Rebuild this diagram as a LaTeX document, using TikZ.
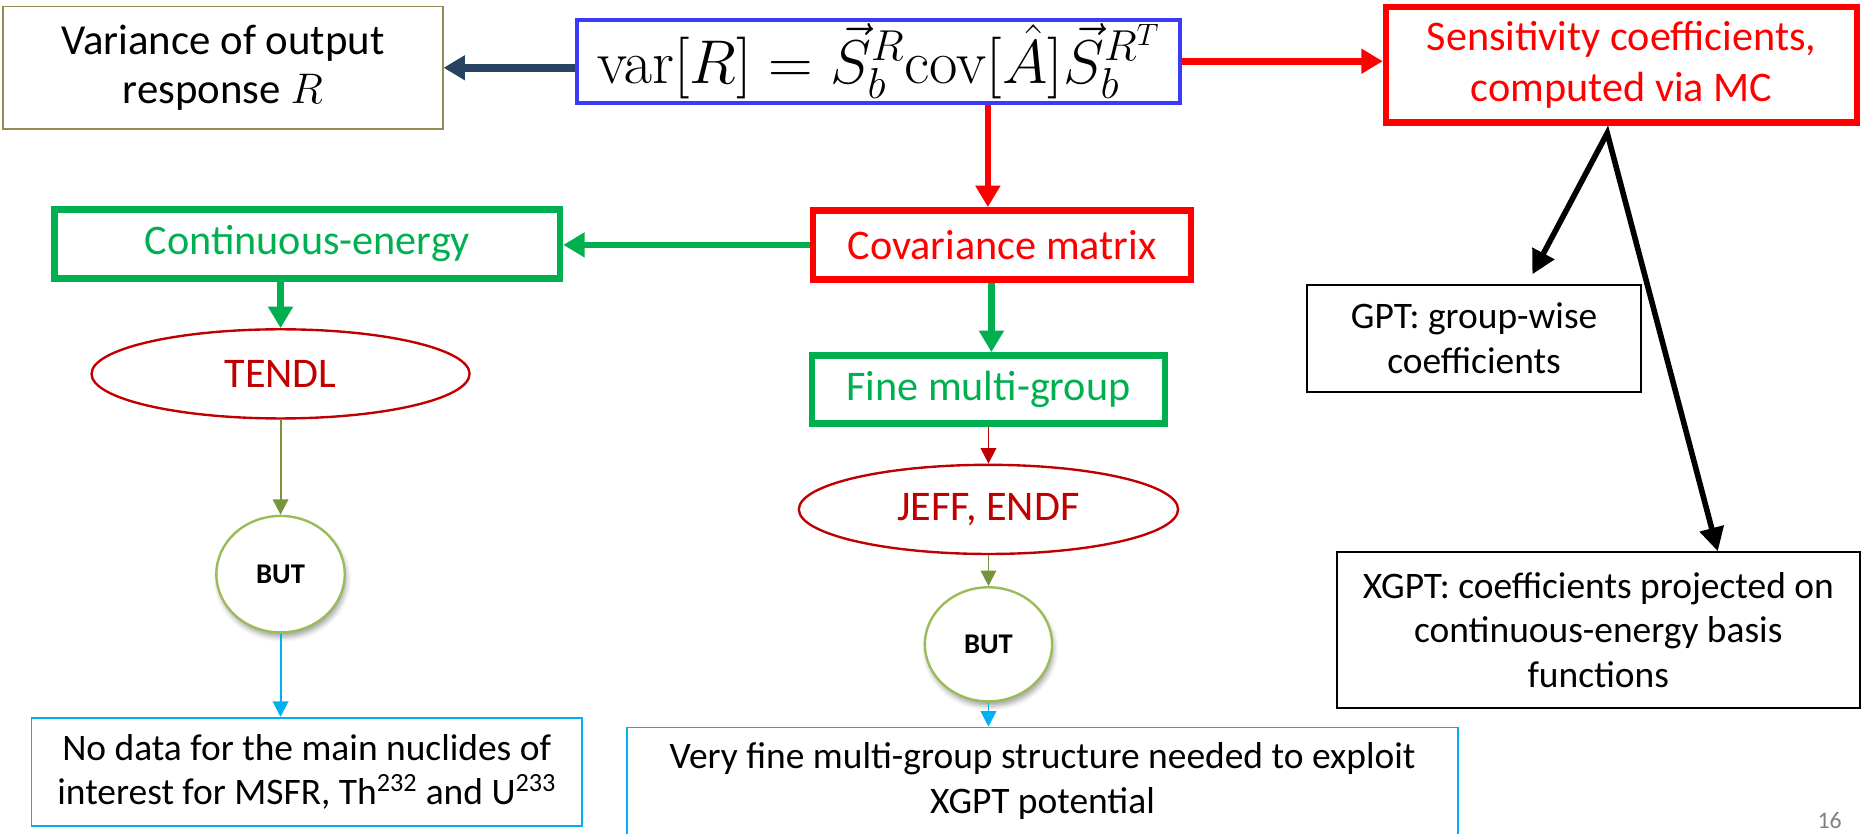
\RequirePackage{fix-cm}
\documentclass[tikz,border=0pt]{standalone}
\usepackage[no-math]{fontspec}
\setmainfont{Carlito}
\usetikzlibrary{arrows.meta,shapes.geometric,shadows.blur}

\definecolor{boxolive}{RGB}{148,138,84}
\definecolor{navyarrow}{RGB}{40,66,98}
\definecolor{eqblue}{RGB}{58,58,248}
\definecolor{pptred}{RGB}{255,0,0}
\definecolor{pptgreen}{RGB}{0,176,80}
\definecolor{darkred}{RGB}{192,0,0}
\definecolor{leafgreen}{RGB}{119,147,60}
\definecolor{butgreen}{RGB}{155,187,89}
\definecolor{skyblue}{RGB}{0,176,240}

\tikzset{
  bigtext/.style={font=\fontsize{35.5}{42.5}\selectfont},
  bodytext/.style={font=\fontsize{31.5}{37.5}\selectfont},
  plainbox/.style={draw, rectangle, align=center, inner sep=0pt},
  heavybox/.style={plainbox, line width=5.6pt, bigtext},
  thinbox/.style={plainbox, line width=1.4pt, bodytext},
  library/.style={ellipse, draw=darkred, line width=2pt, text=darkred,
    inner sep=0pt, bigtext},
  butnode/.style={ellipse, draw=butgreen, line width=2pt, fill=white,
    inner sep=0pt, font=\fontsize{24}{28}\selectfont\bfseries,
    blur shadow={shadow xshift=1.5pt, shadow yshift=-4pt,
      shadow blur radius=4pt, shadow opacity=35}},
  heavyarrow/.style={-{Triangle[length=18pt,width=20pt]}, line width=5.6pt},
  thinarrow/.style={-{Triangle[length=13pt,width=13pt]}, line width=1.6pt},
}

\begin{document}
\begin{tikzpicture}[x=1pt, y=-1pt]
\useasboundingbox (0,0) rectangle (1568,701);

% top row
\node[plainbox, draw=boxolive, line width=1.3pt, minimum width=370pt,
  minimum height=103pt, font=\fontsize{36}{42}\selectfont]
  (variance) at (187.5,57) {Variance of output\\response $R$};
\node[draw=eqblue, line width=3.4pt, minimum width=507pt, minimum height=70pt,
  inner sep=0pt] (formula) at (739,51.5)
  {\fontsize{52}{60}\selectfont$\mathrm{var}[R]=\vec{S}_b^R\mathrm{cov}[\hat{A}]\vec{S}_b^{R^T}$};
\node[heavybox, draw=pptred, text=pptred, minimum width=396pt,
  minimum height=97pt] (sens) at (1364,54.5)
  {Sensitivity coefficients,\\computed via MC};

% covariance branch
\node[heavybox, draw=pptred, text=pptred, minimum width=318pt,
  minimum height=58pt] (cov) at (843,206) {Covariance matrix};
\node[heavybox, draw=pptgreen, text=pptgreen, minimum width=425pt,
  minimum height=58pt] (cont) at (258.5,205) {Continuous-energy};
\node[heavybox, draw=pptgreen, text=pptgreen, minimum width=297pt,
  minimum height=57pt] (fine) at (831.5,327.5) {Fine multi-group};

% nuclear data libraries
\node[library, minimum width=318pt, minimum height=75pt] (tendl) at (236,314.5) {TENDL};
\node[library, minimum width=319pt, minimum height=75pt] (jeff) at (831.5,428.5) {JEFF, ENDF};

% caveats
\node[butnode, minimum width=108pt, minimum height=98pt] (but1) at (236,483) {BUT};
\node[butnode, minimum width=107pt, minimum height=96pt] (but2) at (831.5,542) {BUT};

\node[thinbox, draw=skyblue, line width=1.5pt, minimum width=463pt,
  minimum height=91pt] (nodata) at (258,649.3)
  {No data for the main nuclides of\\interest for MSFR, Th\textsuperscript{232} and U\textsuperscript{233}};
\node[thinbox, draw=skyblue, line width=1.5pt, minimum width=699pt,
  minimum height=90pt] (finegrid) at (877,657)
  {Very fine multi-group structure needed to exploit\\XGPT potential};

% sensitivity methods
\node[thinbox, draw=black, minimum width=281pt, minimum height=90pt]
  (gpt) at (1240,284.5) {GPT: group-wise\\coefficients};
\node[thinbox, draw=black, minimum width=440pt, minimum height=131pt]
  (xgpt) at (1344.5,530) {XGPT: coefficients projected on\\continuous-energy basis\\functions};
\coordinate (fork) at (1352,112);

\node[text=gray, font=\fontsize{20}{24}\selectfont] (slideno) at (1539,690) {16};

% connectors
\draw[heavyarrow, navyarrow, line width=6.5pt] (formula.west |- variance.east) -- (variance.east);
\draw[heavyarrow, pptred] (formula.east) -- (formula.east -| sens.west);
\draw[heavyarrow, pptred] ([xshift=92pt]formula.south) -- ([xshift=92pt]formula.south |- cov.north);
\draw[heavyarrow, pptgreen] (cov.west) -- (cov.west -| cont.east);
\draw[heavyarrow, pptgreen] (tendl.north |- cont.south) -- (tendl.north);
\draw[heavyarrow, pptgreen] ([xshift=-9pt]cov.south) -- ([xshift=-9pt]cov.south |- fine.north);
\draw[thinarrow, darkred] (fine.south) -- (jeff.north);
\draw[thinarrow, leafgreen] (tendl.south) -- (but1.north);
\draw[thinarrow, leafgreen] (jeff.south) -- (but2.north);
\draw[thinarrow, skyblue] (but1.south) -- (but1.south |- nodata.north);
\draw[thinarrow, skyblue] (but2.south) -- (but2.south |- finegrid.north);
\draw[{Triangle[length=20pt,width=20pt]}-{Triangle[length=20pt,width=20pt]},
  line width=4.7pt, line join=miter]
  ([xshift=49pt,yshift=8pt]gpt.north) -- (fork) -- ([xshift=100.5pt]xgpt.north);
\end{tikzpicture}
\end{document}
